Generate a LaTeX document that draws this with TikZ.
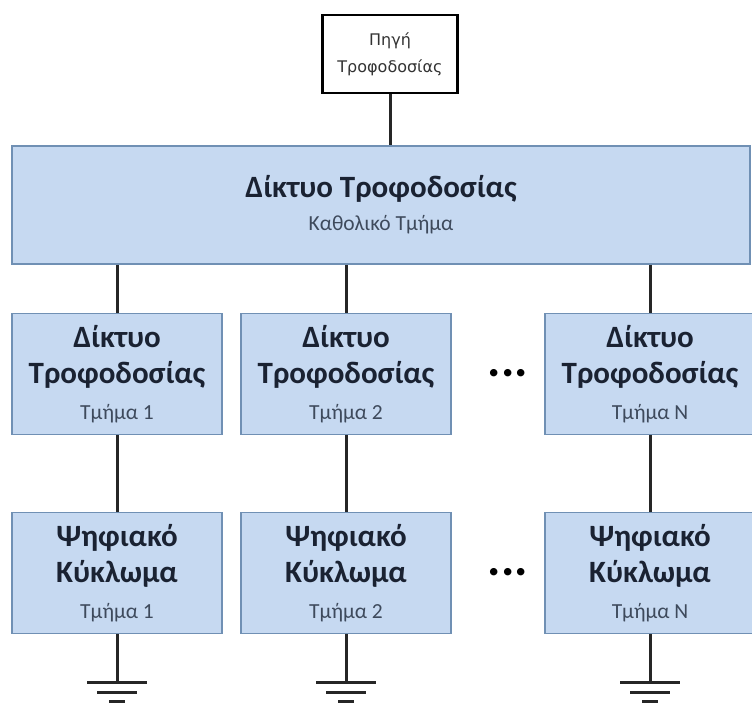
\documentclass[tikz,border=0pt]{standalone}
\usepackage{fontspec}
\setmainfont{Carlito}
\newfontfamily\srcfont{DejaVu Sans}
\definecolor{boxfill}{HTML}{C6D9F1}
\definecolor{boxline}{HTML}{7090B4}
\definecolor{titletext}{HTML}{1A2232}
\definecolor{subtext}{HTML}{3E4A5C}
\newcommand{\titlefont}{\fontsize{31}{36}\selectfont\bfseries\color{titletext}}
\newcommand{\subfont}{\fontsize{21.5}{26}\selectfont\color{subtext}}
\newcommand{\partlabel}[3]{{\titlefont #1}\\{\titlefont #2}\\[0pt]{\subfont #3}}
\begin{document}
\begin{tikzpicture}[x=1pt,y=-1pt,
        bluebox/.style={draw=boxline,line width=1.8pt,fill=boxfill,inner sep=0pt,
            minimum width=210pt,minimum height=121pt,align=center,font=\fontsize{31}{36}\selectfont},
        wire/.style={line width=3pt,black!85},
        dots/.style={font=\fontsize{50}{50}\selectfont\bfseries,anchor=base,inner sep=0pt}]
            \useasboundingbox (0,0) rectangle (752,702);

            \node[draw=black,line width=2.8pt,fill=white,minimum width=135pt,minimum height=78pt,
                  inner sep=0pt,align=center,text=black!80,font=\srcfont\fontsize{16}{27}\selectfont]
                  (source) at (390,54) {Πηγή\\Τροφοδοσίας};

            \node[bluebox,minimum width=738pt,minimum height=118pt] (net) at (381,205)
                  {{\titlefont Δίκτυο Τροφοδοσίας}\\[-3pt]{\subfont Καθολικό Τμήμα}};

            \node[bluebox] (net1) at (117,374) {\partlabel{Δίκτυο}{Τροφοδοσίας}{Τμήμα 1}};
            \node[bluebox] (net2) at (346,374) {\partlabel{Δίκτυο}{Τροφοδοσίας}{Τμήμα 2}};
            \node[bluebox] (netN) at (650,374) {\partlabel{Δίκτυο}{Τροφοδοσίας}{Τμήμα N}};

            \node[bluebox] (dig1) at (117,573) {\partlabel{Ψηφιακό}{Κύκλωμα}{Τμήμα 1}};
            \node[bluebox] (dig2) at (346,573) {\partlabel{Ψηφιακό}{Κύκλωμα}{Τμήμα 2}};
            \node[bluebox] (digN) at (650,573) {\partlabel{Ψηφιακό}{Κύκλωμα}{Τμήμα N}};

            \node[dots] (dotsnet) at (508,376) {...};
            \node[dots] (dotsdig) at (508,575) {...};

            \path[draw,wire] (source.south) -- (source.south |- net.north)
                        (net.south -| net1.north) -- (net1.north)
                        (net.south -| net2.north) -- (net2.north)
                        (net.south -| netN.north) -- (netN.north)
                        (net1.south) -- (dig1.north)
                        (net2.south) -- (dig2.north)
                        (netN.south) -- (digN.north);

            % ground symbols
            \foreach \d in {dig1,dig2,digN}{
                \path[draw,wire] (\d.south) -- ++(0,48) coordinate (\d-gnd);
                \path[draw,wire] ([xshift=-30pt]\d-gnd) -- ([xshift=30pt]\d-gnd)
                            ([xshift=-20pt,yshift=-10pt]\d-gnd) -- ([xshift=20pt,yshift=-10pt]\d-gnd)
                            ([xshift=-8pt,yshift=-19pt]\d-gnd) -- ([xshift=8pt,yshift=-19pt]\d-gnd);
            }
        \end{tikzpicture}
\end{document}
